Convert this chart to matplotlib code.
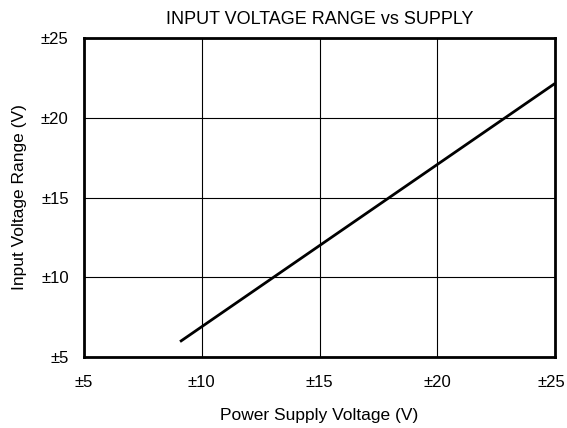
import matplotlib
matplotlib.use("Agg")
import matplotlib.pyplot as plt
import matplotlib.transforms as mtransforms

supply_v = [9.08, 25.0]
input_range = [5.96, 22.16]
ticks = [5, 10, 15, 20, 25]
tick_labels = ["±5", "±10", "±15", "±20", "±25"]

plt.rcParams["font.family"] = ["Liberation Sans", "DejaVu Sans"]

fig = plt.figure(figsize=(5.67, 4.28), dpi=100)
ax = fig.add_axes([0.148, 0.166, 0.831, 0.745])

ax.plot(supply_v, input_range, color="black", lw=2, solid_capstyle="butt")

ax.set_xlim(5, 25)
ax.set_ylim(5, 25)
ax.set_xticks(ticks)
ax.set_yticks(ticks)
ax.set_xticklabels(tick_labels)
ax.set_yticklabels(tick_labels)
ax.tick_params(length=0, labelsize=12)
ax.tick_params(axis="x", pad=13)
ax.tick_params(axis="y", pad=11)
ax.grid(True, color="black", lw=0.8)
for s in ax.spines.values():
    s.set_linewidth(2)

# last x label sits at the figure edge, nudge it in a little
last = ax.get_xticklabels()[-1]
last.set_transform(last.get_transform()
                   + mtransforms.ScaledTranslation(-3 / 72, 0, fig.dpi_scale_trans))

ax.set_xlabel("Power Supply Voltage (V)", fontsize=12.5, labelpad=13)
ax.set_ylabel("Input Voltage Range (V)", fontsize=12.5, labelpad=10)
ax.set_title("INPUT VOLTAGE RANGE vs SUPPLY", fontsize=13, pad=10)

fig.savefig("out.png", dpi=100)
